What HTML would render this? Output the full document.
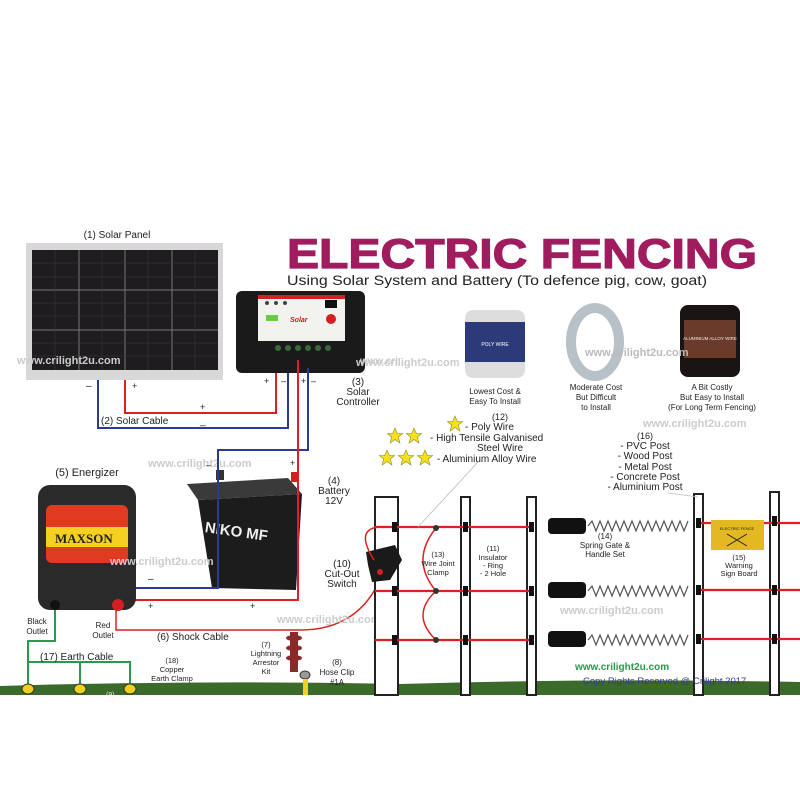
<!DOCTYPE html>
<html><head><meta charset="utf-8"><style>
html,body{margin:0;padding:0;background:#fff;}
svg{display:block;font-family:"Liberation Sans",sans-serif;}
</style></head><body>
<svg width="800" height="800" viewBox="0 0 800 800" xmlns="http://www.w3.org/2000/svg">
<rect width="800" height="800" fill="#fff"/>
<!-- grass -->
<path d="M0 686 Q200 680 400 684 Q600 678 800 682 L800 695 L0 695Z" fill="#3c6a2a"/>

<!-- title -->
<text x="287" y="268" font-size="42" font-weight="bold" fill="#a01c5e" stroke="#a01c5e" stroke-width="1.2" textLength="470" lengthAdjust="spacingAndGlyphs">ELECTRIC FENCING</text>
<text x="287" y="285" font-size="13.5" fill="#222" textLength="420" lengthAdjust="spacingAndGlyphs">Using Solar System and Battery (To defence pig, cow, goat)</text>

<!-- solar panel -->
<text x="117" y="238" font-size="10" text-anchor="middle" fill="#222">(1) Solar Panel</text>
<rect x="26" y="243" width="197" height="137" fill="#d8d8d8"/>
<rect x="32" y="250" width="186" height="120" fill="#1e1c1e"/>
<g stroke="#777" stroke-width="1">
<line x1="79" y1="250" x2="79" y2="370"/><line x1="125" y1="250" x2="125" y2="370"/><line x1="172" y1="250" x2="172" y2="370"/>
<line x1="32" y1="290" x2="218" y2="290"/><line x1="32" y1="330" x2="218" y2="330"/>
</g>
<g stroke="#3a3a3a" stroke-width="0.6">
<line x1="32" y1="263" x2="218" y2="263"/><line x1="32" y1="277" x2="218" y2="277"/><line x1="32" y1="303" x2="218" y2="303"/><line x1="32" y1="316" x2="218" y2="316"/><line x1="32" y1="343" x2="218" y2="343"/><line x1="32" y1="356" x2="218" y2="356"/>
<line x1="55" y1="250" x2="55" y2="370"/><line x1="102" y1="250" x2="102" y2="370"/><line x1="148" y1="250" x2="148" y2="370"/><line x1="195" y1="250" x2="195" y2="370"/>
</g>
<text x="17" y="364" font-size="11" font-weight="bold" fill="#ccc">www.crilight2u.com</text>

<!-- solar cables -->
<path d="M98 380 V428 H288 V368" fill="none" stroke="#2a3a9a" stroke-width="2"/>
<path d="M125 380 V413 H276 V360" fill="none" stroke="#e02020" stroke-width="2"/>
<text x="86" y="389" font-size="10" fill="#222">–</text>
<text x="132" y="389" font-size="9" fill="#222">+</text>
<text x="200" y="410" font-size="9" fill="#222">+</text>
<text x="200" y="424" font-size="10" fill="#222">_</text>
<text x="101" y="424" font-size="10" fill="#222">(2) Solar Cable</text>

<!-- controller -->
<rect x="236" y="291" width="129" height="82" rx="6" fill="#1a1a1a"/>
<rect x="258" y="295" width="87" height="46" fill="#f2f2ee"/>
<rect x="258" y="295" width="87" height="4" fill="#d42020"/>
<rect x="325" y="300" width="12" height="8" fill="#111"/>
<circle cx="331" cy="319" r="5" fill="#d42020"/>
<text x="290" y="322" font-size="7" font-weight="bold" fill="#c02020" font-style="italic">Solar</text>
<g fill="#444"><circle cx="267" cy="303" r="2"/><circle cx="276" cy="303" r="2"/><circle cx="285" cy="303" r="2"/></g>
<rect x="266" y="315" width="12" height="6" fill="#6c4"/>
<g fill="#3a6a3a"><circle cx="278" cy="348" r="3"/><circle cx="288" cy="348" r="3"/><circle cx="298" cy="348" r="3"/><circle cx="308" cy="348" r="3"/><circle cx="318" cy="348" r="3"/><circle cx="328" cy="348" r="3"/></g>
<text x="360" y="364" font-size="10" font-weight="bold" fill="#ccc">www.cri</text>
<text x="264" y="384" font-size="9" fill="#222">+</text>
<text x="281" y="384" font-size="9" fill="#222">–</text>
<text x="301" y="384" font-size="9" fill="#222">+</text>
<text x="311" y="384" font-size="9" fill="#222">–</text>
<text x="358" y="385" font-size="10" text-anchor="middle" fill="#222">(3)</text>
<text x="358" y="395" font-size="10" text-anchor="middle" fill="#222">Solar</text>
<text x="358" y="405" font-size="10" text-anchor="middle" fill="#222">Controller</text>

<!-- battery -->
<path d="M187 484 L288 478 L302 494 L198 500 Z" fill="#3a3a3a"/>
<path d="M198 500 L302 494 L296 590 L212 588 Z" fill="#1c1c1c"/>
<text x="205" y="537" font-size="15" font-weight="bold" fill="#eee" transform="rotate(8 240 530)">NIKO MF</text>
<rect x="216" y="470" width="8" height="10" fill="#333"/>
<rect x="291" y="472" width="8" height="10" fill="#d02020"/>
<text x="148" y="467" font-size="11" font-weight="bold" fill="#ccc">www.crilight2u.com</text>
<text x="334" y="484" font-size="10" text-anchor="middle" fill="#222">(4)</text>
<text x="334" y="494" font-size="10" text-anchor="middle" fill="#222">Battery</text>
<text x="334" y="504" font-size="10" text-anchor="middle" fill="#222">12V</text>
<path d="M308 368 V450 H218 V588 H133" fill="none" stroke="#2a3a9a" stroke-width="2"/>
<path d="M298 360 V600 H133" fill="none" stroke="#e02020" stroke-width="2"/>
<text x="148" y="582" font-size="10" fill="#222">–</text>
<text x="148" y="609" font-size="9" fill="#222">+</text>
<text x="250" y="609" font-size="9" fill="#222">+</text>
<text x="206" y="468" font-size="9" fill="#222">–</text>
<text x="290" y="466" font-size="9" fill="#222">+</text>

<!-- energizer -->
<text x="87" y="476" font-size="11" text-anchor="middle" fill="#222">(5) Energizer</text>
<rect x="38" y="485" width="98" height="125" rx="12" fill="#2a2a2a"/>
<rect x="46" y="505" width="82" height="58" rx="6" fill="#e03a20"/>
<rect x="46" y="527" width="82" height="20" fill="#f5d020"/>
<text x="55" y="543" font-size="13" font-weight="bold" fill="#222" font-family="Liberation Serif,serif">MAXSON</text>
<circle cx="118" cy="605" r="6" fill="#d02020"/>
<circle cx="55" cy="605" r="5" fill="#111"/>
<text x="110" y="565" font-size="11" font-weight="bold" fill="#ccc">www.crilight2u.com</text>
<text x="37" y="624" font-size="8" text-anchor="middle" fill="#222">Black</text>
<text x="37" y="634" font-size="8" text-anchor="middle" fill="#222">Outlet</text>
<text x="103" y="628" font-size="8" text-anchor="middle" fill="#222">Red</text>
<text x="103" y="638" font-size="8" text-anchor="middle" fill="#222">Outlet</text>

<!-- earth cable -->
<path d="M55 610 V641 H28 V690 M28 662 H130 V690 M80 662 V690" fill="none" stroke="#2a9a4a" stroke-width="2"/>
<text x="40" y="660" font-size="10" fill="#222">(17) Earth Cable</text>
<g fill="#f0d020" stroke="#333" stroke-width="1"><ellipse cx="28" cy="689" rx="6" ry="5"/><ellipse cx="80" cy="689" rx="6" ry="5"/><ellipse cx="130" cy="689" rx="6" ry="5"/><ellipse cx="305" cy="675" rx="5" ry="4" fill="#999"/></g>
<rect x="303" y="679" width="5" height="16" fill="#f0d020"/>
<text x="106" y="697" font-size="7" fill="#eee">(9)</text>
<text x="172" y="663" font-size="7.5" text-anchor="middle" fill="#222">(18)</text>
<text x="172" y="672" font-size="7.5" text-anchor="middle" fill="#222">Copper</text>
<text x="172" y="681" font-size="7.5" text-anchor="middle" fill="#222">Earth Clamp</text>

<!-- shock cable -->
<path d="M116 610 V630 H300 Q360 630 382 575" fill="none" stroke="#e02020" stroke-width="1.5"/>
<text x="157" y="640" font-size="10" fill="#222">(6) Shock Cable</text>
<text x="277" y="623" font-size="11" font-weight="bold" fill="#ccc">www.crilight2u.com</text>
<rect x="290" y="632" width="8" height="40" fill="#8a2a2a"/>
<g fill="#8a2a2a"><ellipse cx="294" cy="638" rx="8" ry="3"/><ellipse cx="294" cy="648" rx="8" ry="3"/><ellipse cx="294" cy="658" rx="8" ry="3"/></g>
<text x="266" y="647" font-size="7.5" text-anchor="middle" fill="#222">(7)</text>
<text x="266" y="656" font-size="7.5" text-anchor="middle" fill="#222">Lightning</text>
<text x="266" y="665" font-size="7.5" text-anchor="middle" fill="#222">Arrestor</text>
<text x="266" y="674" font-size="7.5" text-anchor="middle" fill="#222">Kit</text>
<text x="337" y="665" font-size="8" text-anchor="middle" fill="#222">(8)</text>
<text x="337" y="675" font-size="8" text-anchor="middle" fill="#222">Hose Clip</text>
<text x="337" y="685" font-size="8" text-anchor="middle" fill="#222">#1A</text>

<!-- cut-out switch -->
<text x="342" y="567" font-size="10" text-anchor="middle" fill="#222">(10)</text>
<text x="342" y="577" font-size="10" text-anchor="middle" fill="#222">Cut-Out</text>
<text x="342" y="587" font-size="10" text-anchor="middle" fill="#222">Switch</text>

<!-- posts -->
<g fill="#fff" stroke="#222" stroke-width="2">
<rect x="375" y="497" width="23" height="198"/>
<rect x="461" y="497" width="9" height="198"/>
<rect x="527" y="497" width="9" height="198"/>
<rect x="694" y="494" width="9" height="201"/>
<rect x="770" y="492" width="9" height="203"/>
</g>
<path d="M366 552 L395 545 L402 560 L390 580 L372 582 L368 565Z" fill="#1a1a1a"/>
<circle cx="380" cy="572" r="3" fill="#d02020"/>
<path d="M374 560 Q355 530 378 527" fill="none" stroke="#e02020" stroke-width="1.5"/>
<!-- wires -->
<g stroke="#e02020" stroke-width="2.2">
<line x1="375" y1="527" x2="530" y2="527"/><line x1="375" y1="591" x2="530" y2="591"/><line x1="375" y1="640" x2="530" y2="640"/>
<line x1="697" y1="523" x2="800" y2="523"/><line x1="697" y1="590" x2="800" y2="590"/><line x1="697" y1="639" x2="800" y2="639"/>
</g>
<path d="M436 528 Q410 560 436 591 Q410 615 436 640" fill="none" stroke="#e02020" stroke-width="1.5"/>
<g fill="#333"><circle cx="436" cy="528" r="3"/><circle cx="436" cy="591" r="3"/><circle cx="436" cy="640" r="3"/></g>
<g fill="#111">
<rect x="392" y="522" width="5" height="10"/><rect x="392" y="586" width="5" height="10"/><rect x="392" y="635" width="5" height="10"/>
<rect x="463" y="522" width="5" height="10"/><rect x="463" y="586" width="5" height="10"/><rect x="463" y="635" width="5" height="10"/>
<rect x="529" y="522" width="5" height="10"/><rect x="529" y="586" width="5" height="10"/><rect x="529" y="635" width="5" height="10"/>
<rect x="696" y="518" width="5" height="10"/><rect x="696" y="585" width="5" height="10"/><rect x="696" y="634" width="5" height="10"/>
<rect x="772" y="516" width="5" height="10"/><rect x="772" y="585" width="5" height="10"/><rect x="772" y="634" width="5" height="10"/>
<rect x="548" y="518" width="38" height="16" rx="4"/><rect x="548" y="582" width="38" height="16" rx="4"/><rect x="548" y="631" width="38" height="16" rx="4"/>
</g>
<g fill="none" stroke="#555" stroke-width="1.2">
<path d="M588 526 l4 -5 l4 10 l4 -10 l4 10 l4 -10 l4 10 l4 -10 l4 10 l4 -10 l4 10 l4 -10 l4 10 l4 -10 l4 10 l4 -10 l4 10 l4 -10 l4 10 l4 -10 l4 10 l4 -10 l4 10 l4 -10 l4 10 l4 -10"/>
<path d="M588 591 l4 -5 l4 10 l4 -10 l4 10 l4 -10 l4 10 l4 -10 l4 10 l4 -10 l4 10 l4 -10 l4 10 l4 -10 l4 10 l4 -10 l4 10 l4 -10 l4 10 l4 -10 l4 10 l4 -10 l4 10 l4 -10 l4 10 l4 -10"/>
<path d="M588 640 l4 -5 l4 10 l4 -10 l4 10 l4 -10 l4 10 l4 -10 l4 10 l4 -10 l4 10 l4 -10 l4 10 l4 -10 l4 10 l4 -10 l4 10 l4 -10 l4 10 l4 -10 l4 10 l4 -10 l4 10 l4 -10 l4 10 l4 -10"/>
</g>
<line x1="418" y1="527" x2="478" y2="462" stroke="#bbb" stroke-width="0.8"/>
<line x1="668" y1="493" x2="698" y2="497" stroke="#bbb" stroke-width="0.8"/>
<text x="438" y="557" font-size="7.5" text-anchor="middle" fill="#222">(13)</text>
<text x="438" y="566" font-size="7.5" text-anchor="middle" fill="#222">Wire Joint</text>
<text x="438" y="575" font-size="7.5" text-anchor="middle" fill="#222">Clamp</text>
<text x="493" y="551" font-size="7.5" text-anchor="middle" fill="#222">(11)</text>
<text x="493" y="560" font-size="7.5" text-anchor="middle" fill="#222">Insulator</text>
<text x="493" y="568" font-size="7.5" text-anchor="middle" fill="#222">- Ring</text>
<text x="493" y="576" font-size="7.5" text-anchor="middle" fill="#222">- 2 Hole</text>
<text x="605" y="539" font-size="8" text-anchor="middle" fill="#222">(14)</text>
<text x="605" y="548" font-size="8" text-anchor="middle" fill="#222">Spring Gate &amp;</text>
<text x="605" y="557" font-size="8" text-anchor="middle" fill="#222">Handle Set</text>
<rect x="711" y="520" width="53" height="30" fill="#e3b820"/>
<text x="737" y="530" font-size="4" text-anchor="middle" fill="#222">ELECTRIC FENCE</text>
<path d="M727 534 L747 546 M747 534 L727 546" stroke="#222" stroke-width="1"/>
<text x="739" y="560" font-size="7.5" text-anchor="middle" fill="#222">(15)</text>
<text x="739" y="568" font-size="7.5" text-anchor="middle" fill="#222">Warning</text>
<text x="739" y="576" font-size="7.5" text-anchor="middle" fill="#222">Sign Board</text>
<text x="560" y="614" font-size="11" font-weight="bold" fill="#ccc">www.crilight2u.com</text>
<text x="575" y="670" font-size="10" font-weight="bold" fill="#2a9a4a">www.crilight2u.com</text>
<text x="583" y="684" font-size="9.5" fill="#3a3a8a">Copy Rights Reserved @ Crilight 2017</text>

<!-- wire types -->
<text x="500" y="420" font-size="9" text-anchor="middle" fill="#222">(12)</text>
<text x="465" y="430" font-size="10" fill="#222">- Poly Wire</text>
<text x="430" y="441" font-size="10" fill="#222">- High Tensile Galvanised</text>
<text x="500" y="451" font-size="10" text-anchor="middle" fill="#222">Steel Wire</text>
<text x="437" y="462" font-size="10" fill="#222">- Aluminium Alloy Wire</text>
<g fill="#f5e020" stroke="#8a8a20" stroke-width="0.6">
<path d="M0 -8 L2.3 -2.5 L7.6 -2.5 L3.4 1 L4.9 7 L0 3.5 L-4.9 7 L-3.4 1 L-7.6 -2.5 L-2.3 -2.5Z" transform="translate(455 424)"/>
<path d="M0 -8 L2.3 -2.5 L7.6 -2.5 L3.4 1 L4.9 7 L0 3.5 L-4.9 7 L-3.4 1 L-7.6 -2.5 L-2.3 -2.5Z" transform="translate(395 436)"/>
<path d="M0 -8 L2.3 -2.5 L7.6 -2.5 L3.4 1 L4.9 7 L0 3.5 L-4.9 7 L-3.4 1 L-7.6 -2.5 L-2.3 -2.5Z" transform="translate(414 436)"/>
<path d="M0 -8 L2.3 -2.5 L7.6 -2.5 L3.4 1 L4.9 7 L0 3.5 L-4.9 7 L-3.4 1 L-7.6 -2.5 L-2.3 -2.5Z" transform="translate(387 458)"/>
<path d="M0 -8 L2.3 -2.5 L7.6 -2.5 L3.4 1 L4.9 7 L0 3.5 L-4.9 7 L-3.4 1 L-7.6 -2.5 L-2.3 -2.5Z" transform="translate(406 458)"/>
<path d="M0 -8 L2.3 -2.5 L7.6 -2.5 L3.4 1 L4.9 7 L0 3.5 L-4.9 7 L-3.4 1 L-7.6 -2.5 L-2.3 -2.5Z" transform="translate(425 458)"/>
</g>
<text x="645" y="439" font-size="9" text-anchor="middle" fill="#222">(16)</text>
<text x="645" y="449" font-size="10" text-anchor="middle" fill="#222">- PVC Post</text>
<text x="645" y="459" font-size="10" text-anchor="middle" fill="#222">- Wood Post</text>
<text x="645" y="470" font-size="10" text-anchor="middle" fill="#222">- Metal Post</text>
<text x="645" y="480" font-size="10" text-anchor="middle" fill="#222">- Concrete Post</text>
<text x="645" y="490" font-size="10" text-anchor="middle" fill="#222">- Aluminium Post</text>
<text x="643" y="427" font-size="11" font-weight="bold" fill="#ccc">www.crilight2u.com</text>

<!-- spools -->
<rect x="465" y="310" width="60" height="68" rx="8" fill="#ddd"/>
<rect x="465" y="322" width="60" height="40" fill="#2c3a7a"/>
<text x="495" y="346" font-size="5" text-anchor="middle" fill="#fff">POLY WIRE</text>
<ellipse cx="595" cy="342" rx="24" ry="34" fill="none" stroke="#b8c0c8" stroke-width="10"/>
<rect x="680" y="305" width="60" height="72" rx="8" fill="#1a1414"/>
<rect x="684" y="320" width="52" height="38" fill="#6a3a2a"/>
<text x="710" y="340" font-size="4.5" text-anchor="middle" fill="#eee">ALUMINIUM ALLOY WIRE</text>
<text x="356" y="366" font-size="11" font-weight="bold" fill="#ccc">www.crilight2u.com</text>
<text x="585" y="356" font-size="11" font-weight="bold" fill="#bbb">www.crilight2u.com</text>
<text x="495" y="394" font-size="8" text-anchor="middle" fill="#222">Lowest Cost &amp;</text>
<text x="495" y="404" font-size="8" text-anchor="middle" fill="#222">Easy To Install</text>
<text x="596" y="390" font-size="8" text-anchor="middle" fill="#222">Moderate Cost</text>
<text x="596" y="400" font-size="8" text-anchor="middle" fill="#222">But Difficult</text>
<text x="596" y="410" font-size="8" text-anchor="middle" fill="#222">to Install</text>
<text x="712" y="390" font-size="8" text-anchor="middle" fill="#222">A Bit Costly</text>
<text x="712" y="400" font-size="8" text-anchor="middle" fill="#222">But Easy to Install</text>
<text x="712" y="410" font-size="8" text-anchor="middle" fill="#222">(For Long Term Fencing)</text>
</svg>
</body></html>
